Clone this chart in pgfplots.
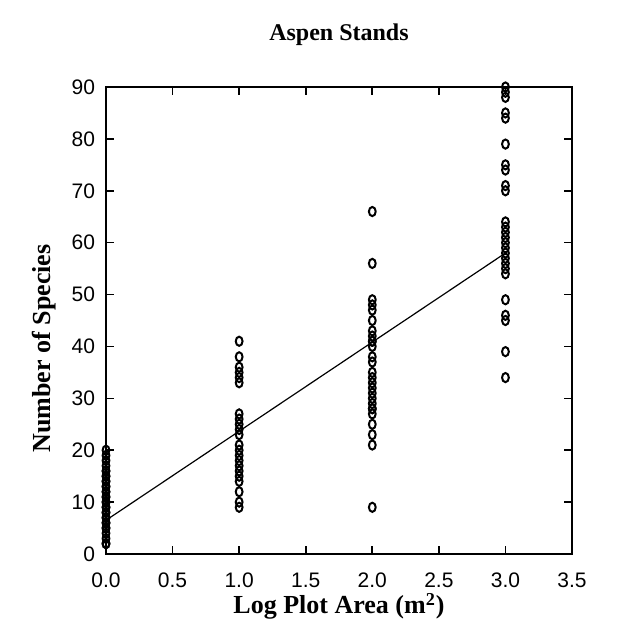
\documentclass[border=0pt]{standalone}
\usepackage{fontspec}
\setmainfont{Liberation Serif}
\setsansfont{Liberation Sans}
\usepackage{pgfplots}
\pgfplotsset{compat=1.18}
\usepackage{pgfplotstable}
\usetikzlibrary{calc}

% species counts per log plot area
\pgfplotstableread{
x y
0 2
0 2
0 3
0 4
0 5
0 5
0 6
0 6
0 7
0 7
0 8
0 8
0 9
0 9
0 10
0 10
0 11
0 11
0 12
0 12
0 13
0 13
0 14
0 14
0 15
0 15
0 16
0 16
0 17
0 18
0 19
0 20
1 9
1 10
1 12
1 14
1 15
1 16
1 17
1 18
1 19
1 20
1 21
1 23
1 24
1 25
1 26
1 27
1 33
1 34
1 35
1 36
1 38
1 41
2 9
2 21
2 23
2 25
2 27
2 28
2 28
2 29
2 30
2 31
2 32
2 33
2 34
2 35
2 37
2 38
2 40
2 41
2 41
2 42
2 43
2 45
2 47
2 48
2 49
2 56
2 66
3 34
3 39
3 45
3 46
3 49
3 54
3 55
3 56
3 57
3 58
3 59
3 60
3 61
3 62
3 63
3 64
3 70
3 71
3 74
3 75
3 79
3 84
3 85
3 88
3 89
3 90
}\aspen

\begin{document}
\begin{tikzpicture}
\begin{axis}[
    name=ax,
    scale only axis,
    width=233pt,
    height=233.5pt,
    xmin=0, xmax=3.5,
    ymin=0, ymax=90,
    xtick={0,0.5,...,3.5},
    ytick={0,10,...,90},
    xticklabel style={yshift=-6pt, /pgf/number format/.cd,fixed,fixed zerofill,precision=1},
    yticklabel style={xshift=-2pt},
    /pgf/number format/assume math mode=true,
    tick label style={font=\sffamily\fontsize{10.5}{12}\selectfont, black},
    tick align=inside,
    major tick length=4pt,
    every tick/.style={black, line width=0.8pt},
    axis line style={black, line width=1pt},
    clip=false,
]
\addplot[only marks, mark=o, mark size=1.7pt,
    mark options={yscale=1.35, line width=1pt, black}] table {\aspen};
\addplot[black, line width=0.6pt] coordinates {(0,6.5) (3,58)};
\end{axis}
\node[font=\bfseries\fontsize{12}{14}\selectfont, anchor=base] at ($(ax.north)+(0,23pt)$) {Aspen Stands};
\node[font=\bfseries\fontsize{13}{15}\selectfont, anchor=base] at ($(ax.south)+(0,-30pt)$) {Log Plot Area (m\textsuperscript{2})};
\node[font=\bfseries\fontsize{13}{15}\selectfont, rotate=90, anchor=base] at ($(ax.west)+(-28pt,-14pt)$) {Number of Species};
\path ($(ax.south west)+(-53pt,-41pt)$) rectangle ($(ax.north east)+(26.5pt,43.5pt)$);
\end{tikzpicture}
\end{document}
